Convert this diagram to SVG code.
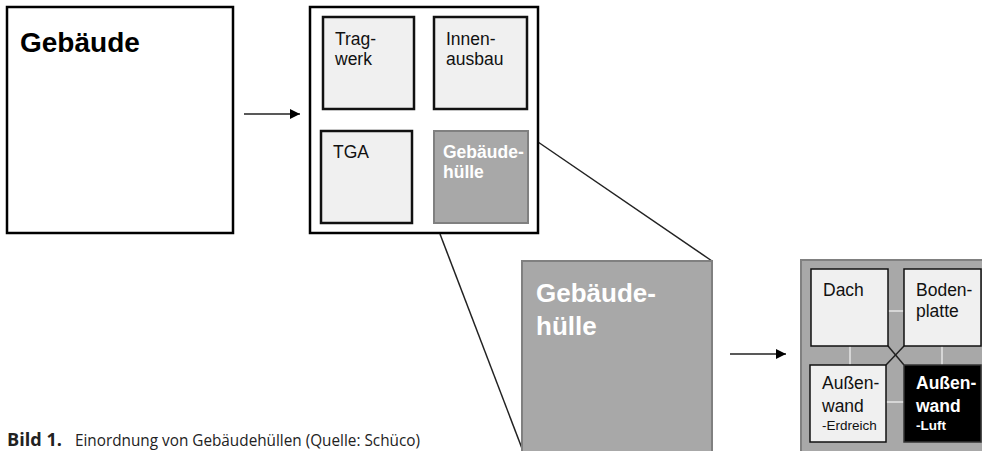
<svg xmlns="http://www.w3.org/2000/svg" width="982" height="451" viewBox="0 0 982 451">
<style>
.box{fill:#ffffff;stroke:#000;stroke-width:2.5}
.lt{fill:#f0f0f0;stroke:#111;stroke-width:2.5}
.gr{fill:#a8a8a8;stroke:#808080;stroke-width:2}
.blk{fill:#000;stroke:#333;stroke-width:1.5}
.t{font-family:"Liberation Sans",Arial,sans-serif;font-size:17.5px;fill:#111}
.tw{font-family:"Liberation Sans",Arial,sans-serif;font-size:17.5px;font-weight:bold;fill:#fff}
.sm{font-size:13.5px}
.ln{stroke:#222;stroke-width:1.5;fill:none}
.ll{stroke:#e6e6e6;stroke-width:1.5;fill:none}
.cap{font-family:"Open Sans","Noto Sans",sans-serif;font-size:17px;fill:#222}
</style>
<defs>
<marker id="ah" viewBox="0 0 10 10" refX="10" refY="5" markerWidth="11" markerHeight="10" markerUnits="userSpaceOnUse" orient="auto">
<path d="M0,0 L10,5 L0,10 Z" fill="#000"/>
</marker>
</defs>
<rect width="982" height="451" fill="#fff"/>
<g id="connectors">
<line class="ln" x1="244" y1="114" x2="300" y2="114" marker-end="url(#ah)"/>
<line class="ln" x1="730" y1="354" x2="786" y2="354" marker-end="url(#ah)"/>
<line class="ln" x1="538" y1="142" x2="712" y2="261"/>
<line class="ln" x1="440" y1="234" x2="523" y2="451"/>
<line class="ln" x1="414" y1="67" x2="434" y2="67"/>
<line class="ln" x1="370" y1="109" x2="370" y2="131"/>
<line class="ln" x1="480" y1="109" x2="480" y2="131"/>
<line class="ln" x1="412" y1="174" x2="434" y2="174"/>
<line class="ln" x1="414" y1="108" x2="434" y2="131"/>
<line class="ln" x1="434" y1="108" x2="412" y2="131"/>
</g>
<g id="gebaeude">
<rect class="box" x="7" y="7" width="226" height="226"/>
<text x="20" y="52" font-family="Liberation Sans,Arial,sans-serif" font-size="28" font-weight="bold" fill="#000">Gebäude</text>
</g>
<g id="gebaeude-komponenten">
<rect class="box" x="310" y="7" width="228" height="226"/>
<g id="tragwerk"><rect class="lt" x="323" y="17" width="91" height="92"/><text class="t" x="335" y="45">Trag-</text><text class="t" x="335" y="65">werk</text></g>
<g id="innenausbau"><rect class="lt" x="434" y="17" width="93" height="92"/><text class="t" x="446" y="45">Innen-</text><text class="t" x="446" y="65">ausbau</text></g>
<g id="tga"><rect class="lt" x="321" y="131" width="91" height="92"/><text class="t" x="333" y="158">TGA</text></g>
<g id="gebaeudehuelle-klein"><rect class="gr" x="434" y="131" width="94" height="92"/><text class="tw" x="443" y="158">Gebäude-</text><text class="tw" x="443" y="178">hülle</text></g>
</g>
<g id="gebaeudehuelle-gross">
<rect class="gr" x="522" y="261" width="190" height="200"/>
<text x="536" y="302" font-family="Liberation Sans,Arial,sans-serif" font-size="26" font-weight="bold" fill="#fff">Gebäude-</text>
<text x="536" y="335" font-family="Liberation Sans,Arial,sans-serif" font-size="26" font-weight="bold" fill="#fff">hülle</text>
</g>
<g id="huelle-komponenten">
<rect class="gr" x="801" y="260" width="195" height="200"/>
<g id="connectors-huelle">
<line class="ll" x1="888" y1="311" x2="904" y2="311"/>
<line class="ll" x1="850" y1="346" x2="850" y2="365"/>
<line class="ll" x1="942" y1="346" x2="942" y2="365"/>
<line class="ll" x1="886" y1="402" x2="904" y2="402"/>
<line class="ln" x1="888" y1="346" x2="904" y2="365"/>
<line class="ln" x1="904" y1="346" x2="886" y2="365"/>
</g>
<g id="dach"><rect class="lt" x="811" y="269" width="77" height="77" style="stroke-width:1.5"/><text class="t" x="823" y="296">Dach</text></g>
<g id="bodenplatte"><rect class="lt" x="904" y="269" width="77" height="77" style="stroke-width:1.5"/><text class="t" x="916" y="296">Boden-</text><text class="t" x="916" y="317">platte</text></g>
<g id="aussenwand-erdreich"><rect class="lt" x="810" y="365" width="76" height="77" style="stroke-width:1.5"/><text class="t" x="822" y="389">Außen-</text><text class="t" x="822" y="412">wand</text><text class="t sm" x="822" y="430">-Erdreich</text></g>
<g id="aussenwand-luft"><rect class="blk" x="904" y="365" width="77" height="77"/><text class="tw" x="916" y="389">Außen-</text><text class="tw" x="916" y="412">wand</text><text class="tw sm" x="916" y="430">-Luft</text></g>
</g>
<g id="caption">
<text class="cap" x="7" y="446" font-weight="bold" textLength="55" lengthAdjust="spacingAndGlyphs">Bild 1.</text>
<text class="cap" x="75" y="446" textLength="345" lengthAdjust="spacingAndGlyphs">Einordnung von Gebäudehüllen (Quelle: Schüco)</text>
</g>
</svg>
